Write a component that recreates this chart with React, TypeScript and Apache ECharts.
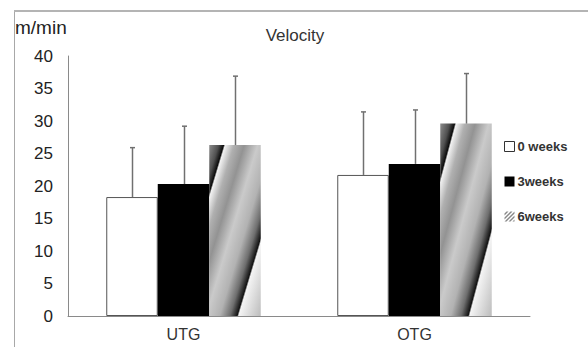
import React, { useEffect, useRef } from "react";
import * as echarts from "echarts";

const categories = ["UTG", "OTG"];
const seriesNames = ["0 weeks", "3weeks", "6weeks"];
const week0Mean = [18.3, 21.7];
const week3Mean = [20.3, 23.4];
const week6Mean = [26.3, 29.6];
const week0Err = [7.6, 9.7];
const week3Err = [8.9, 8.3];
const week6Err = [10.6, 7.7];
const yTicks = [0, 5, 10, 15, 20, 25, 30, 35, 40];

const BAR_W = 51.5;
const FONT = "'Liberation Sans', Arial, sans-serif";

export default function App() {
  const ref = useRef<HTMLDivElement>(null);
  useEffect(() => {
    if (!ref.current) return;
    const chart = echarts.init(ref.current, undefined, { renderer: "svg" });

    const stripe = new echarts.graphic.LinearGradient(0, 0, 1, 1, [
      { offset: 0, color: "#8c8c8c" },
      { offset: 0.09, color: "#505050" },
      { offset: 0.14, color: "#0c0c0c" },
      { offset: 0.155, color: "#f2f2f2" },
      { offset: 0.24, color: "#b0b0b0" },
      { offset: 0.34, color: "#939393" },
      { offset: 0.47, color: "#cacaca" },
      { offset: 0.6, color: "#b2b2b2" },
      { offset: 0.7, color: "#6e6e6e" },
      { offset: 0.77, color: "#121212" },
      { offset: 0.785, color: "#f4f4f4" },
      { offset: 0.9, color: "#d6d6d6" },
      { offset: 1, color: "#bcbcbc" },
    ]);

    const means = [week0Mean, week3Mean, week6Mean];
    const errs = [week0Err, week3Err, week6Err];
    const errData: number[][] = [];
    means.forEach((m, si) =>
      m.forEach((v, ci) => errData.push([ci, si, v, errs[si][ci]]))
    );

    chart.setOption({
      animation: false,
      backgroundColor: "#fff",
      title: {
        text: "Velocity",
        left: 290,
        top: 22,
        textAlign: "center",
        textStyle: { fontFamily: FONT, fontSize: 17, fontWeight: "normal", color: "#333" },
      },
      graphic: [
        {
          type: "line",
          shape: { x1: 14.5, y1: 11, x2: 14.5, y2: 347 },
          style: { stroke: "#a8a8a8", lineWidth: 1 },
        },
        {
          type: "line",
          shape: { x1: 14, y1: 11, x2: 588, y2: 11 },
          style: { stroke: "#b4b4b4", lineWidth: 2 },
        },
        {
          type: "text",
          left: 15,
          top: 18,
          style: { text: "m/min", font: `19px ${FONT}`, fill: "#222" },
        },
      ],
      legend: {
        orient: "vertical",
        left: 499,
        top: 135,
        itemWidth: 10,
        itemHeight: 10,
        itemGap: 22,
        textStyle: { fontFamily: FONT, fontSize: 13, fontWeight: "bold", color: "#333", padding: [0, 0, 0, -2] },
        data: [
          { name: seriesNames[0], icon: "rect", itemStyle: { color: "#fff", borderColor: "#333", borderWidth: 1 } },
          { name: seriesNames[1], icon: "rect", itemStyle: { color: "#000" } },
          {
            name: seriesNames[2],
            icon: "path://M0,10L10,0L10,2L2,10Z M0,6L6,0L8,0L0,8Z M0,2L2,0L4,0L0,4Z M4,10L10,4L10,6L6,10Z M8,10L10,8L10,10Z",
            itemStyle: { color: "#888" },
          },
        ],
      },
      grid: { left: 68, right: 58, top: 56, bottom: 31 },
      xAxis: {
        type: "category",
        data: categories,
        axisLine: { lineStyle: { color: "#8a8a8a", width: 1 } },
        axisTick: { show: false },
        axisLabel: { fontFamily: FONT, fontSize: 16, color: "#333", margin: 10 },
      },
      yAxis: {
        type: "value",
        min: yTicks[0],
        max: yTicks[yTicks.length - 1],
        interval: 5,
        splitLine: { show: false },
        axisLine: { show: true, lineStyle: { color: "#8a8a8a", width: 1 } },
        axisTick: { show: false },
        axisLabel: { fontFamily: FONT, fontSize: 17, color: "#222", margin: 15 },
      },
      series: [
        {
          name: seriesNames[0],
          type: "bar",
          data: week0Mean,
          barWidth: BAR_W,
          barGap: "0%",
          itemStyle: { color: "#fff", borderColor: "#555", borderWidth: 1 },
        },
        {
          name: seriesNames[1],
          type: "bar",
          data: week3Mean,
          barWidth: BAR_W,
          barGap: "0%",
          itemStyle: { color: "#000" },
        },
        {
          name: seriesNames[2],
          type: "bar",
          data: week6Mean,
          barWidth: BAR_W,
          barGap: "0%",
          itemStyle: { color: stripe },
        },
        {
          name: "err",
          type: "custom",
          data: errData,
          encode: { x: 0, y: 2 },
          z: 10,
          renderItem: (params: any, api: any) => {
            const cat = api.value(0);
            const si = api.value(1);
            const mean = api.value(2);
            const err = api.value(3);
            const base = api.coord([cat, mean]);
            const top = api.coord([cat, mean + err]);
            const x = Math.round(base[0] + (si - 1) * BAR_W) + 0.5;
            return {
              type: "group",
              children: [
                {
                  type: "line",
                  shape: { x1: x, y1: base[1], x2: x, y2: top[1] },
                  style: { stroke: "#707070", lineWidth: 1.5 },
                },
                {
                  type: "line",
                  shape: { x1: x - 2.5, y1: top[1], x2: x + 2.5, y2: top[1] },
                  style: { stroke: "#707070", lineWidth: 1.5 },
                },
              ],
            };
          },
        },
      ],
    });
    return () => chart.dispose();
  }, []);
  return <div ref={ref} style={{ width: 588, height: 347, position: "absolute", left: 0, top: 0 }} />;
}
